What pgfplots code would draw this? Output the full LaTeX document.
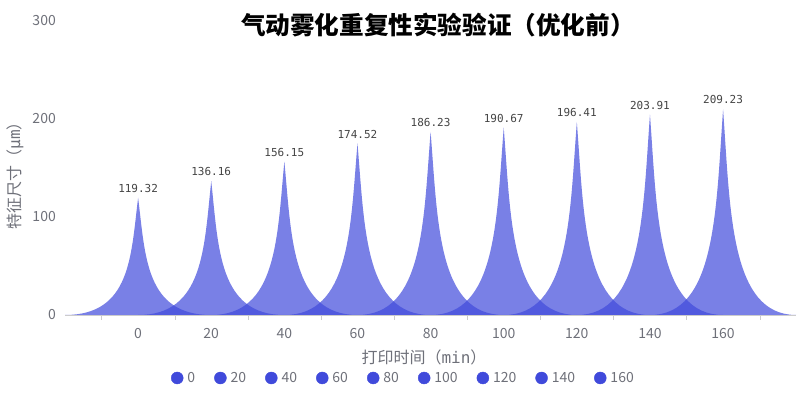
\documentclass[border=0pt]{standalone}
\usepackage{pgfplots}
\pgfplotsset{compat=1.18}
\usepackage{fontspec}
\setmainfont{Noto Sans CJK SC}
\newfontfamily\monofont{DejaVu Sans Mono}
\definecolor{spike}{RGB}{64,74,219}
\definecolor{txtgray}{RGB}{110,112,121}
\definecolor{axgray}{RGB}{204,204,204}
\definecolor{lblgray}{RGB}{68,68,68}
\newcommand\spikew{73.12pt}
\newcommand\spikec{7.312pt}
\pgfdeclareplotmark{spike}{%
  \pgfpathmoveto{\pgfpoint{-\spikew}{-\spikeh pt}}%
  \pgfpathcurveto{\pgfpoint{-\spikec}{-\spikeh pt}}{\pgfpoint{-\spikec}{-\spikehh pt}}{\pgfpointorigin}%
  \pgfpathcurveto{\pgfpoint{\spikec}{-\spikehh pt}}{\pgfpoint{\spikec}{-\spikeh pt}}{\pgfpoint{\spikew}{-\spikeh pt}}%
  \pgfpathclose
  \pgfusepathqfill
}
\pgfplotsset{spk/.style={
    only marks, mark=spike, color=spike,
    mark options={fill=spike, draw=none, fill opacity=0.7},
    visualization depends on={rawy*0.983 \as \spikeh},
    visualization depends on={rawy*0.4915 \as \spikehh},
    point meta=explicit symbolic,
    nodes near coords,
    nodes near coords style={font=\monofont\fontsize{11}{11}\selectfont, text=lblgray, anchor=south, inner sep=0pt, yshift=5pt, fill opacity=1, text opacity=1},
}}
\begin{document}
\begin{tikzpicture}
\path (0pt,0pt) rectangle (800pt,393pt);
\begin{axis}[
  at={(65pt,78pt)}, anchor=south west,
  scale only axis,
  x=3.656pt, y=0.983pt,
  xmin=-20, xmax=180, ymin=0, ymax=300,
  clip=false,
  axis x line=bottom, axis y line=left,
  x axis line style={draw=axgray, -},
  y axis line style={draw=none},
  xtick={0,20,...,160},
  minor xtick={-10,10,...,170},
  ytick={0,100,200,300},
  major tick length=0pt, minor tick length=5pt,
  tick align=outside,
  minor x tick style={draw=axgray},
  /pgf/number format/assume math mode=true,
  ticklabel style={font=\fontsize{14}{16}\selectfont, text=txtgray},
  xticklabel style={anchor=north, inner sep=0pt, yshift=-13pt},
  yticklabel style={anchor=east, inner sep=0pt, xshift=-9pt},
  xlabel={打印时间（{\monofont min}）},
  ylabel={特征尺寸（{\monofont μm}）},
  xlabel style={at={(rel axis cs:0.491,-0.1424)}, anchor=center, font=\fontsize{16}{18}\selectfont, text=txtgray},
  ylabel style={at={(rel axis cs:-0.0684,0.485)}, anchor=center, rotate=0, font=\fontsize{16}{18}\selectfont, text=txtgray},
  title={\textbf{气动雾化重复性实验验证（优化前）}},
  title style={at={(rel axis cs:0.510,0.963)}, anchor=center, font=\fontsize{24.6}{27}\selectfont, text=black},
  legend columns=9,
  legend image code/.code={\fill[spike] (6pt,0pt) circle (6pt);},
  legend style={at={(0.145,-0.2136)}, anchor=west, draw=none, fill=none,
    inner sep=0pt, outer sep=0pt,
    font=\fontsize{14}{16}\selectfont, text=txtgray,
    nodes={inner sep=0pt},
    /tikz/every odd column/.append style={column sep=4pt},
    /tikz/every even column/.append style={column sep=19pt}},
]
\addplot[spk] coordinates {(0,119.32) [119.32]};
\addlegendentry{0}
\addplot[spk] coordinates {(20,136.16) [136.16]};
\addlegendentry{20}
\addplot[spk] coordinates {(40,156.15) [156.15]};
\addlegendentry{40}
\addplot[spk] coordinates {(60,174.52) [174.52]};
\addlegendentry{60}
\addplot[spk] coordinates {(80,186.23) [186.23]};
\addlegendentry{80}
\addplot[spk] coordinates {(100,190.67) [190.67]};
\addlegendentry{100}
\addplot[spk] coordinates {(120,196.41) [196.41]};
\addlegendentry{120}
\addplot[spk] coordinates {(140,203.91) [203.91]};
\addlegendentry{140}
\addplot[spk] coordinates {(160,209.23) [209.23]};
\addlegendentry{160}
\end{axis}
\end{tikzpicture}
\end{document}
